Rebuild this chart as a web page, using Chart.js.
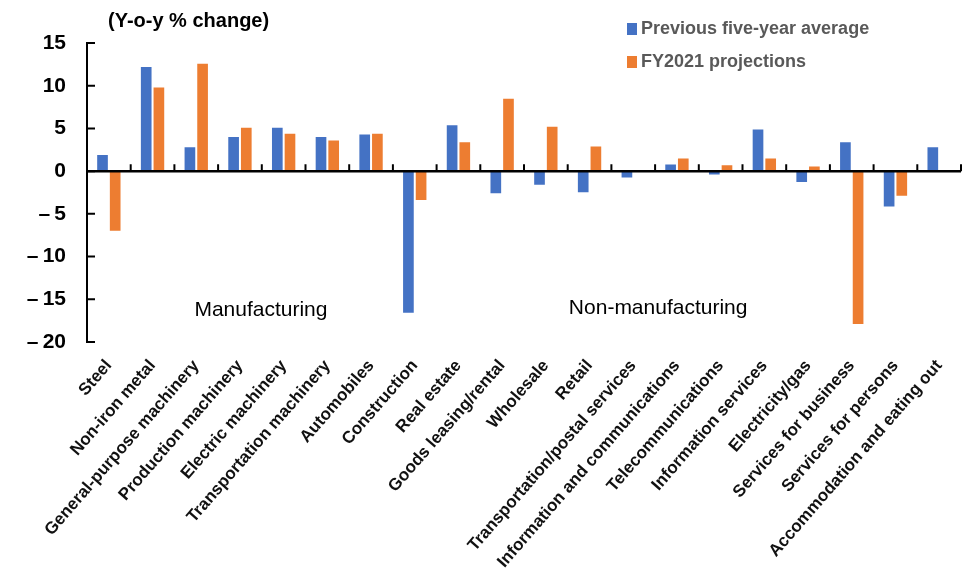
<!DOCTYPE html>
<html>
<head>
<meta charset="utf-8">
<script src="https://cdn.jsdelivr.net/npm/chart.js@4.4.0/dist/chart.umd.min.js"></script>
<style>
  html, body { margin: 0; background: #fff; }
  #wrap { width: 971px; height: 569px; position: relative; }
</style>
</head>
<body>
<div id="wrap"><canvas id="chart"></canvas></div>
<script>
const categories = [
  'Steel', 'Non-iron metal', 'General-purpose machinery', 'Production machinery',
  'Electric machinery', 'Transportation machinery', 'Automobiles', 'Construction',
  'Real estate', 'Goods leasing/rental', 'Wholesale', 'Retail',
  'Transportation/postal services', 'Information and communications', 'Telecommunications',
  'Information services', 'Electricity/gas', 'Services for business', 'Services for persons',
  'Accommodation and eating out'
];
const fiveYearAvg = [2.0, 12.3, 2.9, 4.1, 5.2, 4.1, 4.4, -16.7, 5.5, -2.7, -1.7, -2.6, -0.85, 0.9, -0.5, 5.0, -1.4, 3.5, -4.25, 2.9];
const fy2021 = [-7.1, 9.9, 12.7, 5.2, 4.5, 3.7, 4.5, -3.5, 3.5, 8.6, 5.3, 3.0, 0, 1.6, 0.8, 1.6, 0.65, -18.0, -3.0, 0.2];
const yTicks = [15, 10, 5, 0, -5, -10, -15, -20];
const sectors = ['Manufacturing', 'Non-manufacturing'];

const BLUE = '#4472C4';
const ORANGE = '#ED7D31';

// zero line with its upward ticks, and the left axis with inward ticks
const axisMarks = {
  id: 'axisMarks',
  afterDatasetsDraw(chart) {
    const {ctx, chartArea: a, scales: {x, y}} = chart;
    const zero = y.getPixelForValue(0);
    const half = (x.getPixelForValue(1) - x.getPixelForValue(0)) / 2;
    ctx.save();
    ctx.strokeStyle = '#000';
    ctx.lineWidth = 2.5;
    ctx.beginPath();
    ctx.moveTo(a.left, zero);
    ctx.lineTo(a.right, zero);
    ctx.stroke();
    ctx.lineWidth = 2;
    ctx.beginPath();
    categories.forEach((c, i) => {
      const px = x.getPixelForValue(i) + half;
      ctx.moveTo(px, zero);
      ctx.lineTo(px, zero - 7);
    });
    ctx.moveTo(a.left, a.top - 1);
    ctx.lineTo(a.left, a.bottom + 1);
    y.ticks.forEach(t => {
      const py = y.getPixelForValue(t.value);
      ctx.moveTo(a.left, py);
      ctx.lineTo(a.left + 8, py);
    });
    ctx.stroke();
    ctx.restore();
  }
};

// unit caption, legend and sector captions
const captions = {
  id: 'captions',
  afterDraw(chart, args, opts) {
    const {ctx, scales: {x, y}} = chart;
    ctx.save();
    ctx.textBaseline = 'middle';
    ctx.fillStyle = '#000';
    ctx.font = 'bold 20px "Liberation Sans", Arial, sans-serif';
    ctx.fillText('(Y-o-y % change)', 108, 21);

    ctx.font = 'bold 18px "Liberation Sans", Arial, sans-serif';
    chart.data.datasets.forEach((ds, i) => {
      const ly = opts.legendY + i * 33;
      ctx.fillStyle = ds.backgroundColor;
      ctx.fillRect(opts.legendX, ly - 6, 10, 12);
      ctx.fillStyle = '#595959';
      ctx.fillText(ds.label, opts.legendX + 14, ly);
    });

    ctx.fillStyle = '#000';
    ctx.textAlign = 'center';
    ctx.font = '21px "Liberation Sans", Arial, sans-serif';
    opts.sectorAt.forEach((p, i) => {
      ctx.fillText(sectors[i], x.getPixelForValue(p.index), y.getPixelForValue(p.value));
    });
    ctx.restore();
  }
};

window.onload = () => {
  new Chart(document.getElementById('chart'), {
    type: 'bar',
    data: {
      labels: categories,
      datasets: [
        {
          label: 'Previous five-year average',
          data: fiveYearAvg,
          backgroundColor: BLUE,
          borderColor: 'rgba(255,255,255,0.7)',
          borderWidth: 1
        },
        {
          label: 'FY2021 projections',
          data: fy2021,
          backgroundColor: ORANGE,
          borderColor: 'rgba(255,255,255,0.7)',
          borderWidth: 1
        }
      ]
    },
    options: {
      responsive: true,
      maintainAspectRatio: false,
      animation: false,
      layout: { padding: { left: 0, right: 10, top: 43, bottom: 0 } },
      datasets: { bar: { categoryPercentage: 0.58, barPercentage: 1 } },
      scales: {
        x: {
          grid: { display: false, drawTicks: false },
          border: { display: false },
          afterFit: s => { s.height = 227; },
          ticks: {
            autoSkip: false,
            minRotation: 49,
            maxRotation: 49,
            padding: 14,
            color: '#111',
            font: { family: '"Liberation Sans", Arial, sans-serif', size: 17, weight: 'bold' }
          }
        },
        y: {
          min: -20,
          max: 15,
          grid: { display: false, drawTicks: false },
          border: { display: false },
          afterFit: s => { s.width = 87; },
          afterBuildTicks: s => { s.ticks = yTicks.map(v => ({ value: v })); },
          ticks: {
            padding: 21,
            color: '#000',
            font: { family: '"Liberation Sans", Arial, sans-serif', size: 21, weight: 'bold' },
            callback: v => v < 0 ? '\u2013\u2009' + Math.abs(v) : String(v)
          }
        }
      },
      plugins: {
        legend: { display: false },
        tooltip: { enabled: false },
        captions: {
          legendX: 627,
          legendY: 29,
          sectorAt: [{ index: 3.48, value: -16.3 }, { index: 12.57, value: -16.0 }]
        }
      }
    },
    plugins: [axisMarks, captions]
  });
};
</script>
</body>
</html>
